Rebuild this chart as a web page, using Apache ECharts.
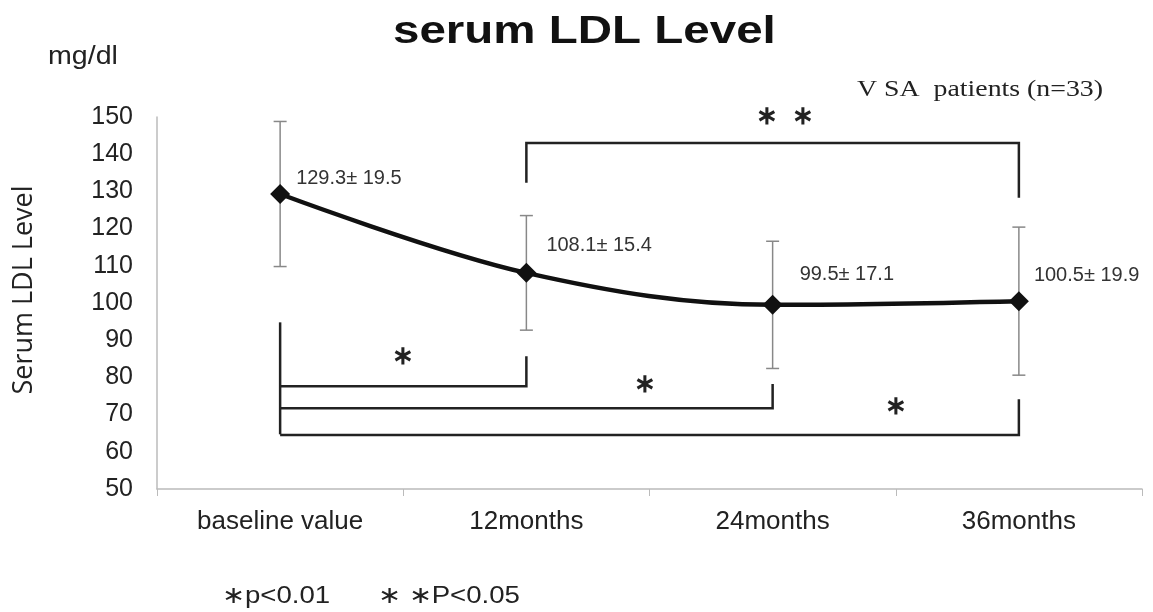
<!DOCTYPE html>
<html>
<head>
<meta charset="utf-8">
<script src="https://cdn.jsdelivr.net/npm/echarts@6/dist/echarts.min.js"></script>
<style>
html,body{margin:0;padding:0;background:#fff;}
#c{width:1153px;height:612px;}
</style>
</head>
<body>
<div id="c"></div>
<script>
const categories = ['baseline value', '12months', '24months', '36months'];
const means = [129.3, 108.1, 99.5, 100.5];
const sds = [19.5, 15.4, 17.1, 19.9];
const yMin = 50, yMax = 150, yStep = 10;
// Significance brackets: polylines in [category index, value] units
const bracketTop = [[1, 132.3], [1, 143.0], [3, 143.0], [3, 128.3]];
const bracketA = [[0, 77.6], [1, 77.6], [1, 85.7]];
const bracketB = [[0, 71.7], [2, 71.7], [2, 78.2]];
const bracketC = [[0, 64.5], [3, 64.5], [3, 74.1]];
const bracketStem = [[0, 94.8], [0, 64.7]];
const brackets = [bracketTop, bracketA, bracketB, bracketC, bracketStem];
// Asterisk markers: [category index, value, text]
const stars = [[0.5, 85.4, '∗'], [1.48, 77.9, '∗'], [2.5, 72.0, '∗'], [2.05, 150.0, '∗  ∗']];
const legendTexts = ['∗p<0.01', '∗ ∗P<0.05'];

const labelOffsets = [[1, -16], [5, -27], [12, -30], [0, -26]];

const chart = echarts.init(document.getElementById('c'), null, {renderer: 'canvas'});
const font = '"Liberation Sans", Arial, sans-serif';

const option = {
  animation: false,
  backgroundColor: '#fff',
  grid: {left: 157, right: 11, top: 117, bottom: 123},
  xAxis: [{
    type: 'category',
    data: categories,
    boundaryGap: true,
    axisLine: {lineStyle: {color: '#bbb', width: 1.5}},
    axisTick: {show: true, alignWithLabel: false, length: 7, lineStyle: {color: '#bbb'}},
    axisLabel: {fontFamily: font, fontSize: 26, color: '#222', margin: 20}
  }, {
    type: 'value', min: -0.5, max: 3.5, show: false
  }],
  yAxis: {
    type: 'value', min: yMin, max: yMax, interval: yStep,
    axisLine: {show: true, onZero: false, lineStyle: {color: '#bbb', width: 1.5}},
    axisTick: {show: false},
    splitLine: {show: false},
    axisLabel: {fontFamily: font, fontSize: 25, color: '#222', margin: 24}
  },
  graphic: [
    {type: 'text', x: 393, y: 33, scaleX: 1.25,
      style: {text: 'serum LDL Level', font: 'bold 38px ' + font, fill: '#111', textAlign: 'left', textVerticalAlign: 'middle'}},
    {type: 'text', x: 48, y: 57, scaleX: 1.1,
      style: {text: 'mg/dl', font: '26px ' + font, fill: '#222', textAlign: 'left', textVerticalAlign: 'middle'}},
    {type: 'text', x: 857, y: 90, scaleX: 1.21,
      style: {text: 'V SA  patients (n=33)', font: '23px "Liberation Serif", "Times New Roman", serif', fill: '#222', textAlign: 'left', textVerticalAlign: 'middle'}},
    {type: 'text', x: 24, y: 290, rotation: Math.PI / 2,
      style: {text: 'Serum LDL Level', font: '27px "Open Sans", sans-serif', fill: '#222', textAlign: 'center', textVerticalAlign: 'middle'}},
    {type: 'text', x: 222, y: 596, scaleX: 1.15,
      style: {text: legendTexts[0], font: '24px ' + font, fill: '#222', textAlign: 'left', textVerticalAlign: 'middle'}},
    {type: 'text', x: 378, y: 596, scaleX: 1.15,
      style: {text: legendTexts[1], font: '24px ' + font, fill: '#222', textAlign: 'left', textVerticalAlign: 'middle'}}
  ],
  series: [
    {
      type: 'custom',
      name: 'errorbars',
      xAxisIndex: 0,
      data: means.map((m, i) => [i, m - sds[i], m + sds[i]]),
      renderItem: function (params, api) {
        const lo = api.coord([api.value(0), api.value(1)]);
        const hi = api.coord([api.value(0), api.value(2)]);
        const w = 6.5;
        const st = {stroke: '#888', lineWidth: 1.5};
        return {type: 'group', children: [
          {type: 'line', shape: {x1: hi[0], y1: hi[1], x2: lo[0], y2: lo[1]}, style: st},
          {type: 'line', shape: {x1: hi[0] - w, y1: hi[1], x2: hi[0] + w, y2: hi[1]}, style: st},
          {type: 'line', shape: {x1: lo[0] - w, y1: lo[1], x2: lo[0] + w, y2: lo[1]}, style: st}
        ]};
      },
      z: 1
    },
    {
      type: 'line',
      name: 'LDL',
      data: means.map((m, i) => ({
        value: m,
        label: {
          show: true,
          position: 'right',
          offset: labelOffsets[i],
          formatter: means[i].toFixed(1) + '± ' + sds[i].toFixed(1),
          fontFamily: font, fontSize: 20, color: '#333'
        }
      })),
      smooth: 0.35,
      symbol: 'diamond',
      symbolSize: 20,
      itemStyle: {color: '#111'},
      lineStyle: {color: '#111', width: 4.5},
      z: 3
    },
    {
      type: 'custom',
      name: 'brackets',
      xAxisIndex: 1,
      data: brackets.map((b, i) => [i]),
      renderItem: function (params, api) {
        const b = brackets[params.dataIndex];
        const pts = b.map(p => api.coord(p));
        return {type: 'polyline', shape: {points: pts}, style: {stroke: '#222', lineWidth: 2.5, fill: null}};
      },
      z: 2
    },
    {
      type: 'custom',
      name: 'stars',
      xAxisIndex: 1,
      data: stars.map(s => [s[0], s[1]]),
      renderItem: function (params, api) {
        const p = api.coord([api.value(0), api.value(1)]);
        return {type: 'text', x: p[0], y: p[1], style: {text: stars[params.dataIndex][2], font: 'bold 26px ' + font, fill: '#222', align: 'center', verticalAlign: 'middle'}};
      },
      z: 2
    }
  ]
};
chart.setOption(option);
</script>
</body>
</html>
